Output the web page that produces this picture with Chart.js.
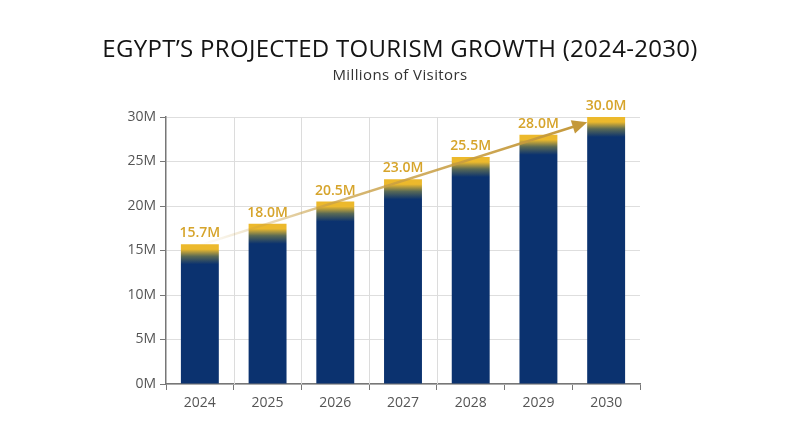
<!DOCTYPE html>
<html>
<head>
<meta charset="utf-8">
<script src="https://cdn.jsdelivr.net/npm/chart.js@4.4.0/dist/chart.umd.min.js"></script>
<style>
    html, body { margin: 0; padding: 0; background: #ffffff; }
    #wrap { width: 800px; height: 447px; }
</style>
</head>
<body>
<div id="wrap"><canvas id="tourism-chart"></canvas></div>
<script>
// Dados do gráfico
const years = ['2024', '2025', '2026', '2027', '2028', '2029', '2030'];
const visitors = [15.7, 18.0, 20.5, 23.0, 25.5, 28.0, 30.0];
const yTicks = [0, 5, 10, 15, 20, 25, 30];
const titleText = 'EGYPT’S PROJECTED TOURISM GROWTH (2024-2030)';
const subtitleText = 'Millions of Visitors';

const GOLD = '#ecb92c';
const NAVY = '#0b326f';
const LABEL_GOLD = '#d6a42b';
const FONT = "'Open Sans', sans-serif";

// Gradiente dourado -> azul no topo de cada barra
function barGradient(ctx) {
    const chart = ctx.chart;
    if (!chart.chartArea) return NAVY;
    const top = chart.scales.y.getPixelForValue(ctx.raw);
    const g = chart.ctx.createLinearGradient(0, top, 0, top + 20);
    g.addColorStop(0, GOLD);
    g.addColorStop(0.25, GOLD);
    g.addColorStop(0.6, '#5a6a55');
    g.addColorStop(1, NAVY);
    return g;
}

// Título centralizado na página inteira
const headerText = {
    id: 'headerText',
    afterDraw(chart) {
        const ctx = chart.ctx;
        const cx = chart.width / 2;
        ctx.save();
        ctx.textAlign = 'center';
        ctx.textBaseline = 'middle';
        ctx.fillStyle = '#141414';
        ctx.font = '400 24px ' + FONT;
        ctx.letterSpacing = '0.3px';
        ctx.fillText(titleText, cx, 50);
        ctx.fillStyle = '#333333';
        ctx.font = '400 15px ' + FONT;
        ctx.letterSpacing = '0.4px';
        ctx.fillText(subtitleText, cx, 76);
        ctx.restore();
    }
};

// Linhas verticais apenas entre algumas categorias
const verticalGrid = {
    id: 'verticalGrid',
    beforeDatasetsDraw(chart) {
        const { ctx, chartArea, scales } = chart;
        const x = scales.x;
        const half = (x.getPixelForValue(1) - x.getPixelForValue(0)) / 2;
        ctx.save();
        ctx.strokeStyle = '#dcdcdc';
        ctx.lineWidth = 1;
        for (let i = 1; i <= 4; i++) {
            const px = Math.round(x.getPixelForValue(i) - half) + 0.5;
            ctx.beginPath();
            ctx.moveTo(px, chartArea.top);
            ctx.lineTo(px, chartArea.bottom);
            ctx.stroke();
        }
        ctx.restore();
    }
};

// Seta de tendência e rótulos dos valores
const overlay = {
    id: 'overlay',
    afterDatasetsDraw(chart) {
        const { ctx, scales } = chart;
        const x = scales.x, y = scales.y;
        const last = visitors.length - 1;
        const x0 = x.getPixelForValue(0), y0 = y.getPixelForValue(visitors[0] - 0.1);
        const x1 = x.getPixelForValue(last - 0.28), y1 = y.getPixelForValue(visitors[last] - 0.6);

        ctx.save();
        const g = ctx.createLinearGradient(x0, y0, x1, y1);
        g.addColorStop(0, 'rgba(201,160,70,0)');
        g.addColorStop(0.35, 'rgba(201,160,70,0.75)');
        g.addColorStop(1, 'rgba(196,152,58,1)');
        ctx.strokeStyle = g;
        ctx.lineWidth = 2.5;
        const ang = Math.atan2(y1 - y0, x1 - x0);
        const head = 15;
        ctx.beginPath();
        ctx.moveTo(x0, y0);
        ctx.lineTo(x1 - Math.cos(ang) * head * 0.8, y1 - Math.sin(ang) * head * 0.8);
        ctx.stroke();
        ctx.fillStyle = '#c4983a';
        ctx.beginPath();
        ctx.moveTo(x1, y1);
        ctx.lineTo(x1 - head * Math.cos(ang) + 7 * Math.sin(ang), y1 - head * Math.sin(ang) - 7 * Math.cos(ang));
        ctx.lineTo(x1 - head * Math.cos(ang) - 7 * Math.sin(ang), y1 - head * Math.sin(ang) + 7 * Math.cos(ang));
        ctx.closePath();
        ctx.fill();

        ctx.fillStyle = LABEL_GOLD;
        ctx.font = "600 14px " + FONT;
        ctx.textAlign = 'center';
        ctx.textBaseline = 'bottom';
        chart.getDatasetMeta(0).data.forEach((bar, i) => {
            ctx.fillText(visitors[i].toFixed(1) + 'M', bar.x, bar.y - 4);
        });
        ctx.restore();
    }
};

const config = {
    type: 'bar',
    data: {
        labels: years,
        datasets: [{
            label: 'Visitors',
            data: visitors,
            backgroundColor: barGradient,
            barPercentage: 0.56,
            categoryPercentage: 1.0,
            borderWidth: 0
        }]
    },
    options: {
        responsive: true,
        maintainAspectRatio: false,
        animation: false,
        layout: { padding: { top: 117, left: 100, right: 160, bottom: 20 } },
        plugins: {
            legend: { display: false },
            tooltip: { enabled: false },
            title: { display: false }
        },
        scales: {
            x: {
                grid: {
                    drawOnChartArea: false,
                    tickLength: 6,
                    tickColor: '#777777'
                },
                border: { color: '#777777', width: 1.5 },
                ticks: {
                    color: '#555555',
                    font: { family: FONT, size: 14 },
                    padding: 5
                },
                afterFit(scale) { scale.height = 43; }
            },
            y: {
                min: 0,
                max: 30,
                afterBuildTicks(scale) { scale.ticks = yTicks.map(v => ({ value: v })); },
                grid: {
                    color: '#dedede',
                    tickLength: 6,
                    tickColor: '#777777'
                },
                border: { color: '#777777', width: 1.5 },
                ticks: {
                    color: '#555555',
                    font: { family: FONT, size: 14 },
                    padding: 4,
                    callback: v => v + 'M'
                },
                afterFit(scale) { scale.width = 66; }
            }
        }
    },
    plugins: [verticalGrid, overlay, headerText]
};

new Chart(document.getElementById('tourism-chart'), config);
</script>
</body>
</html>
